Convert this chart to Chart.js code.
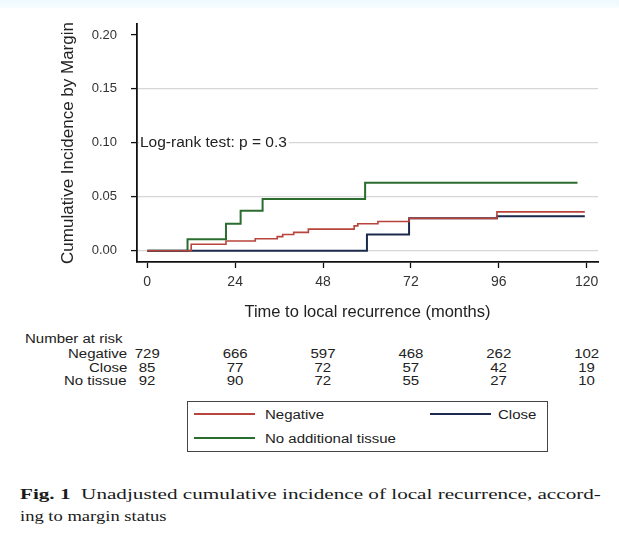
<!DOCTYPE html>
<html>
<head>
<meta charset="utf-8">
<script src="https://cdn.jsdelivr.net/npm/chart.js@4/dist/chart.umd.min.js"></script>
<style>
  html, body { margin: 0; padding: 0; background: #fff; }
  body { width: 619px; height: 535px; position: relative; overflow: hidden;
         font-family: "Liberation Sans", Arial, sans-serif; color: #222; }
  #band { position: absolute; left: 0; top: 0; width: 619px; height: 9px;
          background: linear-gradient(to bottom, #eefafd 0%, #f4fcfe 70%, rgba(255,255,255,0) 100%); }
  #plot { position: absolute; left: 0; top: 0; width: 619px; height: 330px; }
  .txt { position: absolute; white-space: nowrap; line-height: 1; }
  .risk { font-size: 15px; transform: scaleY(0.82); }
  #legend { position: absolute; left: 187px; top: 401px; width: 359px; height: 49px;
            border: 1.5px solid #444; box-sizing: content-box; }
  .swatch { position: absolute; height: 2px; width: 61px; }
  .leg { font-size: 15px; transform: scaleY(0.82); }
  .cap { font-family: "Liberation Serif", "Times New Roman", serif; font-size: 15px;
         transform-origin: 0 50%; color: #1a1a1a; }
</style>
</head>
<body>
<div id="band"></div>
<div id="plot"><canvas id="chart" width="619" height="330"></canvas></div>
<div id="riskTable"></div>
<div id="legend"></div>
<div class="txt cap" id="cap1" style="left:20px; top:487px;"><b>Fig. 1</b>&nbsp; Unadjusted cumulative incidence of local recurrence, accord-</div>
<div class="txt cap" id="cap2" style="left:20px; top:509px;">ing to margin status</div>
<script>
// Follow-up time axis (months) and incidence axis ticks
const timeTicks = [0, 24, 48, 72, 96, 120];
const incidenceTicks = [0, 0.05, 0.10, 0.15, 0.20];

// Cumulative incidence step curves: time of each step and the level reached
const negativeTimes  = [0, 12, 21.5, 29.5, 35.5, 37, 40, 44, 56.5, 57.5, 63, 71.5, 95.5, 119.5];
const negativeValues = [0, 0.006, 0.009, 0.011, 0.013, 0.015, 0.017, 0.020, 0.023, 0.025, 0.027, 0.030, 0.036, 0.036];

const closeTimes  = [0, 60, 71.5, 95.5, 119.5];
const closeValues = [0, 0.015, 0.030, 0.032, 0.032];

const noTissueTimes  = [0, 11, 21.5, 25.5, 31.5, 59.5, 117.5];
const noTissueValues = [0, 0.0105, 0.025, 0.037, 0.048, 0.063, 0.063];

// Number at risk at each time tick
const riskGroups   = ['Negative', 'Close', 'No tissue'];
const riskNegative = [729, 666, 597, 468, 262, 102];
const riskClose    = [85, 77, 72, 57, 42, 19];
const riskNoTissue = [92, 90, 72, 55, 27, 10];

const legendLabels = ['Negative', 'Close', 'No additional tissue'];
const logRankText = 'Log-rank test: p = 0.3';

const RED = '#b8443c', NAVY = '#1c2a4e', GREEN = '#2b6d2f';
const FONT = '"Liberation Sans", Arial, sans-serif';

function pts(ts, vs) { return ts.map((t, i) => ({ x: t, y: vs[i] })); }

const logRankLabel = {
  id: 'logRankLabel',
  afterDatasetsDraw(chart) {
    const { ctx, scales } = chart;
    const x = scales.x.left + 3;
    const y = scales.y.getPixelForValue(0.10);
    ctx.save();
    ctx.font = '15.5px ' + FONT;
    const w = ctx.measureText(logRankText).width;
    ctx.fillStyle = '#fff';
    ctx.fillRect(x - 1, y - 7, w + 3, 14);
    ctx.fillStyle = '#222';
    ctx.textBaseline = 'middle';
    ctx.fillText(logRankText, x, y);
    ctx.restore();
  }
};

const chart = new Chart(document.getElementById('chart'), {
  type: 'line',
  data: {
    datasets: [
      { label: legendLabels[0], data: pts(negativeTimes, negativeValues), borderColor: RED, borderWidth: 1.6, stepped: 'before', pointRadius: 0, fill: false },
      { label: legendLabels[1], data: pts(closeTimes, closeValues), borderColor: NAVY, borderWidth: 2, stepped: 'before', pointRadius: 0, fill: false },
      { label: legendLabels[2], data: pts(noTissueTimes, noTissueValues), borderColor: GREEN, borderWidth: 2, stepped: 'before', pointRadius: 0, fill: false }
    ]
  },
  options: {
    responsive: false,
    animation: false,
    events: [],
    layout: { padding: { left: 58, top: 24, right: 21, bottom: 0 } },
    plugins: { legend: { display: false }, tooltip: { enabled: false } },
    scales: {
      x: {
        type: 'linear', min: -2.8, max: 123.1,
        afterBuildTicks(s) { s.ticks = timeTicks.map(v => ({ value: v })); },
        afterFit(s) { s.height = 68; },
        border: { color: '#111', width: 1.8 },
        grid: { drawOnChartArea: false, drawTicks: true, tickLength: 6, tickColor: '#111', tickWidth: 1.3 },
        ticks: { color: '#333', padding: 6, maxRotation: 0, font: { family: FONT, size: 14 } },
        title: { display: true, text: 'Time to local recurrence (months)', color: '#222',
                 padding: { top: 0, bottom: 8 }, font: { family: FONT, size: 16.5 } }
      },
      y: {
        type: 'linear', min: -0.0105, max: 0.2102,
        afterBuildTicks(s) { s.ticks = incidenceTicks.map(v => ({ value: v })); },
        afterFit(s) { s.width = 79; },
        border: { color: '#111', width: 1.8 },
        grid: {
          drawOnChartArea: true, drawTicks: true, tickLength: 6, tickWidth: 1.3,
          color: c => (c.tick && c.tick.value >= 0.2 ? 'rgba(0,0,0,0)' : '#d6d6d6'),
          tickColor: '#111', lineWidth: 1.2
        },
        ticks: { color: '#333', padding: 14, callback: v => v.toFixed(2), font: { family: FONT, size: 13 } },
        title: { display: true, text: 'Cumulative Incidence by Margin', color: '#222',
                 padding: { top: 0, bottom: 0 }, font: { family: FONT, size: 17 } }
      }
    }
  },
  plugins: [logRankLabel]
});

// Number-at-risk table, aligned to the time axis ticks
(function buildRiskTable() {
  const host = document.getElementById('riskTable');
  const xs = chart.scales.x;
  const add = (text, left, top, align) => {
    const d = document.createElement('div');
    d.className = 'txt risk';
    d.textContent = text;
    d.style.top = top + 'px';
    host.appendChild(d);
    const w = d.offsetWidth;
    if (align === 'right') d.style.left = (left - w) + 'px';
    else if (align === 'center') d.style.left = (left - w / 2) + 'px';
    else d.style.left = left + 'px';
  };
  add('Number at risk', 25, 331, 'left');
  const rows = [riskNegative, riskClose, riskNoTissue];
  const rowTop = [346, 359.5, 373];
  rows.forEach((vals, r) => {
    add(riskGroups[r], 127, rowTop[r], 'right');
    vals.forEach((v, i) => add(String(v), xs.getPixelForValue(timeTicks[i]), rowTop[r], 'center'));
  });
})();

// Legend box below the table
(function buildLegend() {
  const box = document.getElementById('legend');
  const items = [
    { label: legendLabels[0], color: RED,   sx: 6,   tx: 77,  y: 12 },
    { label: legendLabels[1], color: NAVY,  sx: 242, tx: 310, y: 12 },
    { label: legendLabels[2], color: GREEN, sx: 6,   tx: 77,  y: 36 }
  ];
  items.forEach(it => {
    const s = document.createElement('div');
    s.className = 'swatch';
    s.style.left = it.sx + 'px';
    s.style.top = (it.y - 1) + 'px';
    s.style.background = it.color;
    box.appendChild(s);
    const t = document.createElement('div');
    t.className = 'txt leg';
    t.textContent = it.label;
    t.style.left = it.tx + 'px';
    t.style.top = (it.y - 7.5) + 'px';
    box.appendChild(t);
  });
})();

// Stretch the caption lines to their set widths
(function fitCaption() {
  const fit = (id, w) => {
    const el = document.getElementById(id);
    const cur = el.offsetWidth;
    el.style.transform = 'scaleX(' + (w / cur) + ')';
  };
  fit('cap1', 581);
  fit('cap2', 146);
})();
</script>
</body>
</html>
